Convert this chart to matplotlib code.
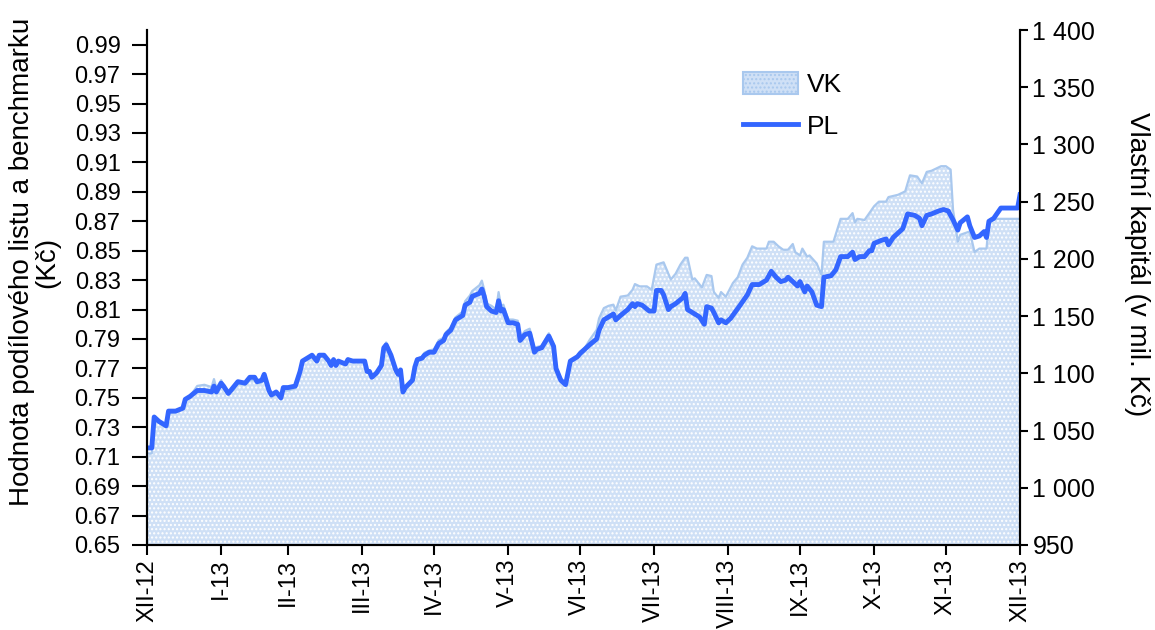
import numpy as np
import pandas as pd
import matplotlib
matplotlib.use("Agg")
import matplotlib.pyplot as plt
from matplotlib.ticker import FuncFormatter
from matplotlib.patches import Patch
from matplotlib.lines import Line2D

plt.rcParams['font.family'] = ['Liberation Sans', 'DejaVu Sans']
plt.rcParams['hatch.linewidth'] = 1.0

# ---- data (days after 31.12.2012) ----
pl_days = [0, 2, 3, 5, 8, 9, 12, 15, 16, 18,
           21, 24, 27, 28, 29, 31, 32, 34, 36, 38,
           41, 43, 45, 46, 48, 49, 51, 52, 54, 56,
           57, 59, 62, 64, 65, 67, 69, 71, 72, 74,
           76, 77, 78, 79, 80, 83, 84, 86, 91, 92,
           93, 94, 96, 98, 99, 100, 102, 104, 105, 106,
           107, 108, 111, 112, 113, 115, 116, 118, 120, 122,
           124, 125, 127, 129, 132, 133, 135, 136, 139, 140,
           141, 142, 144, 146, 147, 148, 149, 151, 153, 155,
           156, 158, 160, 162, 163, 165, 168, 170, 171, 173,
           175, 177, 180, 181, 183, 185, 188, 189, 191, 194,
           195, 196, 198, 201, 203, 204, 205, 207, 210, 212,
           213, 215, 216, 218, 219, 221, 224, 225, 226, 228,
           231, 233, 234, 236, 237, 239, 240, 242, 244, 248,
           251, 253, 256, 259, 261, 263, 265, 267, 268, 270,
           272, 273, 275, 276, 278, 280, 282, 283, 286, 288,
           290, 293, 295, 296, 298, 300, 302, 303, 304, 307,
           309, 310, 312, 314, 316, 318, 321, 323, 324, 326,
           328, 331, 333, 335, 337, 339, 340, 343, 344, 346,
           348, 350, 351, 352, 354, 357, 363, 364, 365]
pl_values = [.716, .716, .737, .734, .731, .741, .741, .743, .749, .751,
             .755, .755, .754, .758, .754, .760, .758, .753, .757, .761,
             .760, .764, .764, .761, .762, .766, .755, .752, .754, .750,
             .757, .757, .758, .768, .775, .777, .779, .775, .779, .779,
             .775, .772, .776, .772, .775, .773, .776, .775, .775, .768,
             .768, .764, .767, .772, .784, .786, .779, .769, .766, .769,
             .754, .757, .762, .771, .776, .777, .779, .781, .781, .787,
             .789, .793, .796, .803, .806, .813, .815, .819, .821, .824,
             .819, .812, .809, .808, .816, .809, .810, .801, .801, .800,
             .789, .793, .794, .781, .783, .784, .792, .785, .770, .762,
             .759, .775, .778, .780, .783, .786, .790, .796, .803, .806,
             .807, .803, .806, .810, .814, .812, .814, .813, .809, .809,
             .823, .823, .820, .810, .812, .814, .818, .821, .810, .808,
             .805, .800, .812, .811, .808, .801, .803, .801, .804, .813,
             .820, .827, .827, .830, .836, .832, .829, .830, .832, .829,
             .826, .829, .822, .826, .822, .813, .812, .832, .833, .837,
             .846, .846, .849, .844, .846, .846, .850, .850, .855, .857,
             .858, .854, .859, .862, .865, .875, .874, .872, .867, .874,
             .875, .877, .878, .877, .871, .864, .869, .873, .867, .859,
             .860, .863, .859, .870, .872, .879, .879, .879, .888]

vk_days = [0, 2, 3, 5, 8, 9, 12, 15, 16, 18,
           21, 24, 27, 28, 29, 31, 32, 34, 36, 38,
           41, 43, 45, 46, 48, 49, 51, 52, 54, 56,
           57, 59, 62, 64, 65, 67, 69, 71, 72, 74,
           76, 77, 78, 79, 80, 83, 84, 86, 91, 92,
           93, 94, 96, 98, 99, 100, 102, 104, 105, 106,
           107, 108, 111, 112, 113, 115, 116, 118, 120, 122,
           124, 125, 127, 129, 132, 133, 135, 136, 139, 140,
           141, 142, 144, 146, 147, 148, 149, 151, 153, 155,
           156, 158, 160, 162, 163, 165, 168, 170, 171, 173,
           175, 177, 180, 181, 183, 185, 188, 189, 191, 193,
           195, 196, 198, 201, 203, 204, 206, 209, 211, 213,
           216, 219, 221, 223, 225, 226, 228, 229, 232, 234,
           236, 237, 239, 240, 242, 245, 247, 249, 251, 253,
           255, 259, 260, 262, 264, 266, 268, 270, 271, 273,
           274, 276, 277, 280, 282, 283, 287, 290, 293, 295,
           296, 297, 300, 302, 304, 306, 309, 310, 314, 317,
           319, 322, 324, 326, 328, 330, 332, 334, 336, 337,
           339, 340, 344, 346, 348, 351, 352, 355, 364, 365]
vk_values = [1030, 1030, 1060, 1057, 1053, 1065, 1066, 1069, 1076, 1080,
             1089, 1090, 1088, 1095, 1087, 1094, 1089, 1082, 1085, 1091,
             1090, 1094, 1094, 1091, 1092, 1097, 1084, 1079, 1082, 1077,
             1085, 1085, 1087, 1101, 1110, 1113, 1116, 1110, 1116, 1116,
             1110, 1107, 1113, 1107, 1111, 1109, 1113, 1111, 1111, 1101,
             1101, 1096, 1099, 1107, 1123, 1127, 1117, 1103, 1099, 1103,
             1083, 1086, 1094, 1106, 1113, 1114, 1118, 1120, 1121, 1129,
             1131, 1136, 1140, 1149, 1154, 1163, 1168, 1172, 1177, 1181,
             1173, 1161, 1159, 1156, 1171, 1159, 1160, 1147, 1147, 1146,
             1131, 1137, 1139, 1122, 1123, 1124, 1135, 1125, 1106, 1096,
             1091, 1111, 1115, 1119, 1122, 1129, 1138, 1148, 1157, 1159,
             1160, 1155, 1167, 1168, 1173, 1178, 1176, 1176, 1173, 1195,
             1197, 1182, 1187, 1195, 1201, 1201, 1182, 1183, 1175, 1186,
             1185, 1171, 1166, 1171, 1167, 1179, 1184, 1195, 1201, 1211,
             1209, 1209, 1215, 1215, 1211, 1208, 1208, 1213, 1206, 1203,
             1209, 1202, 1203, 1196, 1186, 1215, 1215, 1235, 1235, 1240,
             1232, 1235, 1234, 1240, 1246, 1250, 1250, 1254, 1256, 1259,
             1273, 1272, 1266, 1276, 1277, 1279, 1281, 1281, 1278, 1243,
             1215, 1221, 1224, 1206, 1209, 1209, 1232, 1235, 1235, 1235]

month_labels = ['XII-12', 'I-13', 'II-13', 'III-13', 'IV-13', 'V-13', 'VI-13',
                'VII-13', 'VIII-13', 'IX-13', 'X-13', 'XI-13', 'XII-13']
pl_ticks = [0.65, 0.67, 0.69, 0.71, 0.73, 0.75, 0.77, 0.79, 0.81, 0.83,
            0.85, 0.87, 0.89, 0.91, 0.93, 0.95, 0.97, 0.99]
vk_ticks = [950, 1000, 1050, 1100, 1150, 1200, 1250, 1300, 1350, 1400]

base = pd.Timestamp('2012-12-31')
pl_dates = base + pd.to_timedelta(pl_days, unit='D')
vk_dates = base + pd.to_timedelta(vk_days, unit='D')
tick_dates = [base] + [pd.Timestamp(2013, m, 1) + pd.offsets.MonthEnd(0) for m in range(1, 13)]

# ---- colours ----
PL_COLOR = '#3366ff'
VK_FACE = '#cfe0f6'
VK_EDGE = '#a9c8ee'

fig = plt.figure(figsize=(11.55, 6.3), dpi=100)
ax = fig.add_axes([147 / 1155, 1 - 545 / 630, 873 / 1155, 515 / 630])
ax2 = ax.twinx()

ax2.fill_between(vk_dates, vk_values, 950, facecolor=VK_FACE, edgecolor='white',
                 hatch='....', linewidth=0)
ax2.plot(vk_dates, vk_values, color=VK_EDGE, lw=1.6)
ax.set_zorder(ax2.get_zorder() + 1)
ax.patch.set_visible(False)
ax.plot(pl_dates, pl_values, color=PL_COLOR, lw=3.5)

ax.set_ylim(0.65, 1.0)
ax.set_yticks(pl_ticks)
ax.yaxis.set_major_formatter(FuncFormatter(lambda v, p: f"{v:.2f}"))
ax2.set_ylim(950, 1400)
ax2.set_yticks(vk_ticks)
ax2.yaxis.set_major_formatter(FuncFormatter(lambda v, p: f"{int(round(v)):,}".replace(",", " ")))

ax.set_xlim(tick_dates[0], tick_dates[-1])
ax.set_xticks(tick_dates)
ax.set_xticklabels(month_labels, rotation=90)

for a in (ax, ax2):
    a.spines['top'].set_visible(False)
    for s in ('left', 'right', 'bottom'):
        a.spines[s].set_linewidth(1.5)
        a.spines[s].set_color('black')
ax.tick_params(axis='y', labelsize=17, length=11, width=1.5, direction='out', pad=8)
ax.tick_params(axis='x', labelsize=17, length=7, width=1.5, direction='out', pad=3)
ax2.tick_params(axis='y', labelsize=18, length=6, width=1.5, direction='out', pad=3)

fig.text(35 / 1155, 1 - 262 / 630, "Hodnota podílového listu a benchmarku\n(Kč)",
         rotation=90, ha='center', va='center', fontsize=20, multialignment='center',
         linespacing=0.95)
fig.text(1137 / 1155, 1 - 264 / 630, "Vlastní kapitál (v mil. Kč)",
         rotation=270, ha='center', va='center', fontsize=20)

handles = [Patch(facecolor=VK_FACE, edgecolor=VK_EDGE, hatch='....', lw=1.5),
           Line2D([], [], color=PL_COLOR, lw=3.5)]
ax.legend(handles, ['VK', 'PL'], loc='upper left', bbox_to_anchor=(0.655, 0.965),
          frameon=False, fontsize=19, handlelength=2.1, handleheight=0.9,
          labelspacing=0.65, handletextpad=0.35)

fig.savefig('out.png', dpi=100)
